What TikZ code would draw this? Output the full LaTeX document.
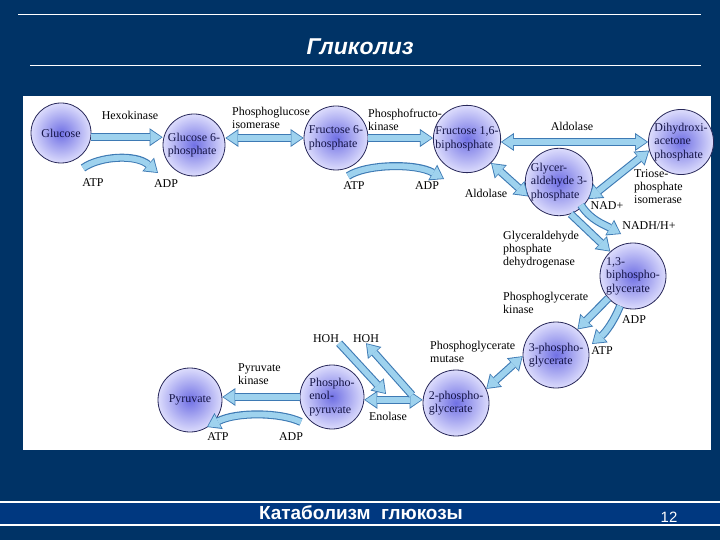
\documentclass[tikz,border=0pt]{standalone}
\usepackage{fontspec}
\setmainfont{Liberation Serif}
\newfontfamily\sansf{Liberation Sans}
\usetikzlibrary{arrows.meta}
\definecolor{bg}{RGB}{0,51,102}
\definecolor{band}{RGB}{0,56,128}
\definecolor{cin}{RGB}{112,112,228}
\definecolor{cout}{RGB}{220,220,252}
\definecolor{cedge}{RGB}{40,40,90}
\definecolor{ctext}{RGB}{20,20,70}
\definecolor{afill}{RGB}{158,210,238}
\definecolor{aedge}{RGB}{62,122,180}
\tikzset{
  circ/.style={circle, draw=cedge, line width=0.8bp, inner color=cin, outer color=cout,
    inner sep=0pt, align=left, text=ctext, font=\fontsize{12}{13.5}\selectfont},
  lbl/.style={inner sep=0pt, align=left, font=\fontsize{12}{13}\selectfont},
  fw/.style={draw=aedge, line width=8bp,
    -{Triangle[length=13bp,width=18bp,line width=0pt]},
    postaction={draw=afill, line width=5.8bp,
      -{Triangle[length=11bp,width=14.6bp,line width=0pt]}, shorten >=1.3bp}},
  bw/.style={draw=aedge, line width=8bp,
    {Triangle[length=13bp,width=18bp,line width=0pt]}-{Triangle[length=13bp,width=18bp,line width=0pt]},
    postaction={draw=afill, line width=5.8bp,
      {Triangle[length=11bp,width=14.6bp,line width=0pt]}-{Triangle[length=11bp,width=14.6bp,line width=0pt]},
      shorten >=1.3bp, shorten <=1.3bp}},
  whiteline/.style={draw=white, line width=1.3bp}
}
\begin{document}
\begin{tikzpicture}[x=1bp,y=-1bp]
\useasboundingbox (0,0) rectangle (720,540);
\fill[bg] (0,0) rectangle (720,540);
% header
\draw[whiteline] (18,14.3) -- (701,14.3);
\draw[whiteline] (30,65.3) -- (701,65.3);
\node[text=white, inner sep=0pt, font=\sansf\bfseries\itshape\fontsize{23}{26}\selectfont] (title) at (360,47) {Гликолиз};
% footer
\fill[band] (0,502) rectangle (720,525);
\draw[whiteline] (0,502) -- (720,502);
\draw[whiteline] (0,525) -- (720,525);
\node[text=white, inner sep=0pt, font=\sansf\bfseries\fontsize{19}{21}\selectfont] (foot) at (361,513) {Катаболизм\ \ глюкозы};
\node[text=white, inner sep=0pt, font=\sansf\fontsize{15}{17}\selectfont] (pagenum) at (669,517) {12};
% panel
\fill[white] (22.7,96) rectangle (711,450);

% metabolites
\node[circ, minimum size=60bp] (glc) at (61,133) {Glucose};
\node[circ, minimum size=62bp] (g6p) at (194,145) {Glucose 6-\\phosphate};
\node[circ, minimum size=64bp] (f6p) at (336,138) {Fructose 6-\\phosphate};
\node[circ, minimum size=66bp] (f16) at (467,139) {Fructose 1,6-\\biphosphate};
\node[circ, minimum size=64bp] (dhap) at (681,142) {Dihydroxi-\\acetone\\phosphate};
\node[circ, minimum size=62bp] (g3p) at (559,182) {Glycer-\\aldehyde 3-\\phosphate};
\node[circ, minimum size=66bp] (bpg) at (633,276) {1,3-\\biphospho-\\glycerate};
\node[circ, minimum size=66bp] (pg3) at (556,355) {3-phospho-\\glycerate};
\node[circ, minimum size=66bp] (pg2) at (456,403) {2-phospho-\\glycerate};
\node[circ, minimum size=64bp] (pep) at (332,397) {Phospho-\\enol-\\pyruvate};
\node[circ, minimum size=64bp] (pyr) at (190,400) {Pyruvate};

% labels
\node[lbl] (hexo) at (130,115) {Hexokinase};
\node[lbl, anchor=west] (pgi) at (232,118) {Phosphoglucose\\isomerase};
\node[lbl, anchor=west] (pfk) at (368,120) {Phosphofructo-\\kinase};
\node[lbl] (ald1) at (572,126) {Aldolase};
\node[lbl] (ald2) at (486,193) {Aldolase};
\node[lbl, anchor=west] (tpi) at (634,187) {Triose-\\phosphate\\isomerase};
\node[lbl] (nad) at (607,206) {NAD+};
\node[lbl] (nadh) at (649,226) {NADH/H+};
\node[lbl, anchor=west] (gapdh) at (503,250) {Glyceraldehyde\\phosphate\\dehydrogenase};
\node[lbl, anchor=west] (pgk) at (503,303) {Phosphoglycerate\\kinase};
\node[lbl] (adp2) at (634,320) {ADP};
\node[lbl] (atp2) at (602,351) {ATP};
\node[lbl, anchor=west] (pgm) at (430,352) {Phosphoglycerate\\mutase};
\node[lbl] (hoh1) at (326,339) {HOH};
\node[lbl] (hoh2) at (366,339) {HOH};
\node[lbl] (eno) at (388,416) {Enolase};
\node[lbl, anchor=west] (pk) at (238,374) {Pyruvate\\kinase};
\node[lbl] (atp1) at (93,183) {ATP};
\node[lbl] (adp1) at (166,184) {ADP};
\node[lbl] (atp4) at (354,186) {ATP};
\node[lbl] (adp4) at (427,186) {ADP};
\node[lbl] (atp3) at (218,437) {ATP};
\node[lbl] (adp3) at (291,437) {ADP};

% free ends of the cofactor arrows
\coordinate (c1s) at (83,168);  \coordinate (c1e) at (158,173);
\coordinate (c2s) at (348,176); \coordinate (c2e) at (444,179);
\coordinate (c3s) at (301,422); \coordinate (c3e) at (207,427);
\coordinate (c4s) at (620,306); \coordinate (c4e) at (592,344);
\coordinate (c5s) at (581,205); \coordinate (c5e) at (621,234);
\coordinate (he1) at (386,394); \coordinate (hs2) at (412,395);

% main pathway
\draw[fw] (glc.-8) -- (glc.-8 -| g6p.west);
\draw[bw] (g6p.east |- f6p.west) -- (f6p.west);
\draw[fw] (f6p.east) -- (f6p.east -| f16.west);
\draw[bw] (f16.-5) -- (f16.-5 -| dhap.west);
\draw[bw] (f16.-45) -- (g3p.205);
\draw[bw] (dhap.195) -- (g3p.-30);
\draw[fw] (g3p.-70) -- (bpg.133);
\draw[fw] (bpg.222) -- (pg3.50);
\draw[bw] (pg3.182) -- (pg2.25);
\draw[bw] (pep.-5) -- (pep.-5 -| pg2.west);
\draw[fw] (pep.west) -- (pep.west -| pyr.east);
% cofactors
\draw[fw] (c1s) .. controls (100,156) and (136,154) .. (c1e);
\draw[fw] (c2s) .. controls (366,164) and (416,163) .. (c2e);
\draw[fw] (c5s) .. controls (590,220) and (605,225) .. (c5e);
\draw[fw] (c4s) .. controls (614,321) and (606,332) .. (c4e);
\draw[fw] (c3s) .. controls (280,412) and (236,412) .. (c3e);
\draw[fw] (hoh1.south east) -- (he1);
\draw[fw] (hs2) -- (hoh2.south);
\end{tikzpicture}
\end{document}
